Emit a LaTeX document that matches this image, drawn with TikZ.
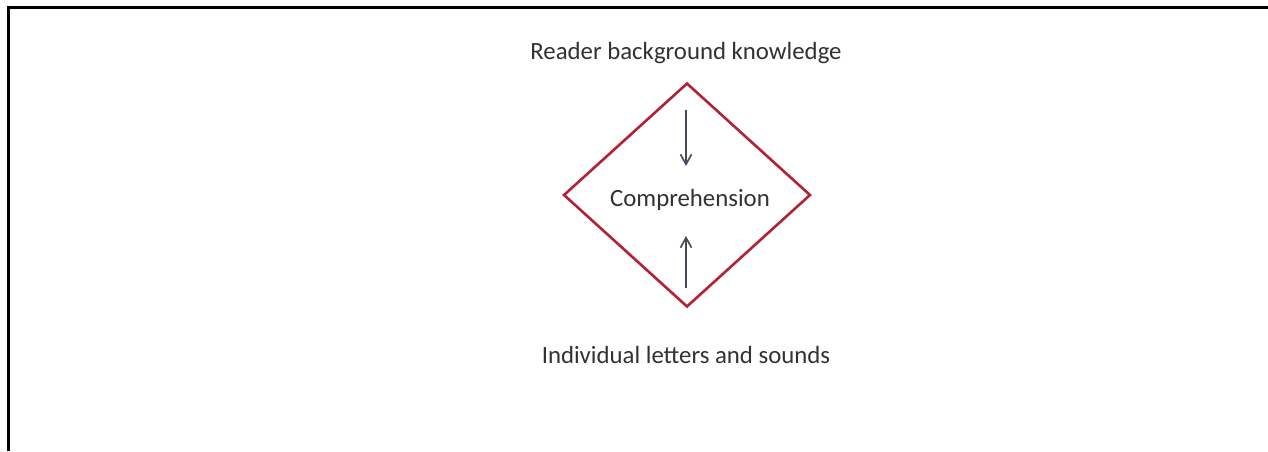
\documentclass[tikz,border=0pt]{standalone}
\usepackage{fontspec}
\setmainfont{Carlito}
\usetikzlibrary{shapes.geometric,arrows.meta}
\definecolor{dred}{RGB}{178,34,52}
\definecolor{arrgrey}{RGB}{72,72,92}
\definecolor{txt}{RGB}{50,50,50}
\tikzset{
  lbl/.style={font=\fontsize{24.8}{28}\selectfont, text=txt, inner sep=0pt},
  arr/.style={draw=arrgrey, line width=1.6pt, -{Straight Barb[length=10pt,width=11pt]}},
  frame/.style={line width=3pt, black}
}
\begin{document}
\begin{tikzpicture}[x=1pt,y=-1pt]
\useasboundingbox (0,0) rectangle (1268,451);
\fill[white] (0,0) rectangle (1268,451);
\coordinate (fc) at (8.5,451);
\coordinate (ftl) at (8.5,7.5);
\coordinate (ftr) at (1268,7.5);
\draw[frame] (fc) -- (ftl) -- (ftr);
\node[diamond, draw=dred, line width=2.6pt, minimum width=247pt, minimum height=224pt, inner sep=0pt] (dia) at (687,195) {};
\node[lbl] (top) at (686,53) {Reader background knowledge};
\node[lbl] (comp) at (690,200) {Comprehension};
\node[lbl] (bot) at (686,355) {Individual letters and sounds};
\coordinate (d1) at (686,110);
\coordinate (d2) at (686,166);
\coordinate (u1) at (686,288);
\coordinate (u2) at (686,236);
\draw[arr] (d1) -- (d2);
\draw[arr] (u1) -- (u2);
\end{tikzpicture}
\end{document}
